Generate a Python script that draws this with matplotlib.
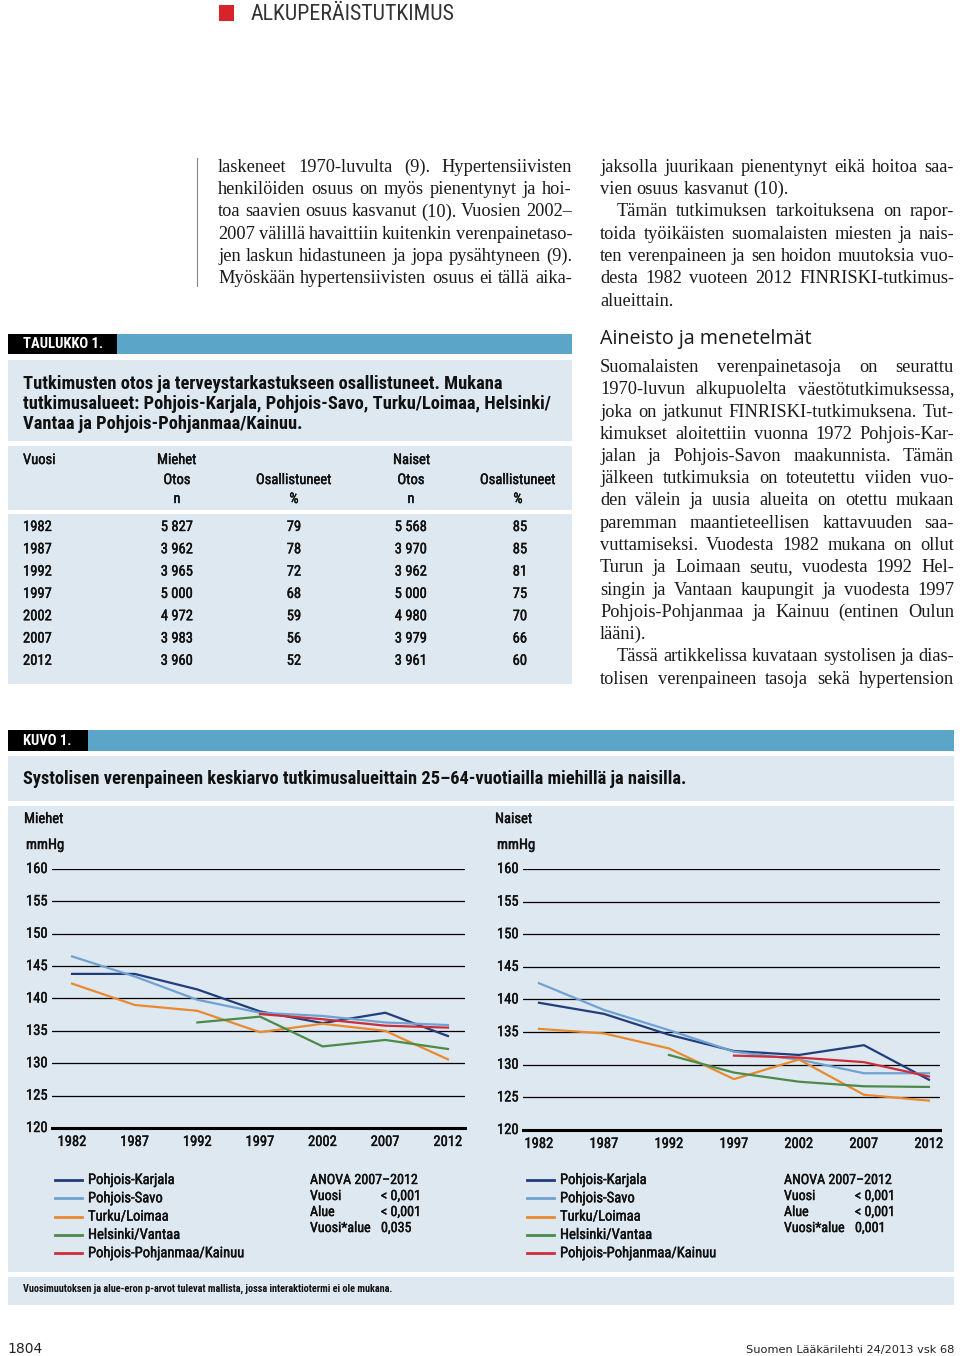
import matplotlib
matplotlib.use("Agg")
import numpy as np
import matplotlib.pyplot as plt
import matplotlib.transforms as mtransforms
import matplotlib.patheffects as pe
from matplotlib import font_manager
from matplotlib.patches import Rectangle
from matplotlib.lines import Line2D

W, H = 960, 1356

# --- data ---
vuodet = [1982, 1987, 1992, 1997, 2002, 2007, 2012]
alueet = ["Pohjois-Karjala", "Pohjois-Savo", "Turku/Loimaa", "Helsinki/Vantaa",
          "Pohjois-Pohjanmaa/Kainuu"]
varit = ["#213d7c", "#6fa2d2", "#ea8a2f", "#4c8a48", "#cc2e3a"]
nan = np.nan

miehet_pk = [143.8, 143.8, 141.4, 138.0, 136.2, 137.8, 134.2]
miehet_ps = [146.5, 143.4, 139.8, 137.8, 137.3, 136.3, 135.9]
miehet_tl = [142.3, 139.0, 138.1, 134.8, 136.1, 135.0, 130.6]
miehet_hv = [nan, nan, 136.3, 137.2, 132.6, 133.6, 132.2]
miehet_ppk = [nan, nan, nan, 137.6, 136.8, 135.8, 135.5]

naiset_pk = [139.5, 137.8, 134.6, 132.1, 131.5, 133.0, 127.7]
naiset_ps = [142.5, 138.4, 135.3, 132.0, 130.8, 128.7, 128.7]
naiset_tl = [135.5, 134.8, 132.5, 127.8, 130.8, 125.4, 124.5]
naiset_hv = [nan, nan, 131.5, 128.8, 127.4, 126.7, 126.6]
naiset_ppk = [nan, nan, nan, 131.4, 131.1, 130.4, 128.2]

y_tikit = [160, 155, 150, 145, 140, 135, 130, 125, 120]

anova_nimet = ["Vuosi", "Alue", "Vuosi*alue"]
anova_miehet = ["< 0,001", "< 0,001", "0,035"]
anova_naiset = ["< 0,001", "< 0,001", "0,001"]

miehet_otos = [5827, 3962, 3965, 5000, 4972, 3983, 3960]
miehet_osall = [79, 78, 72, 68, 59, 56, 52]
naiset_otos = [5568, 3970, 3962, 5000, 4980, 3979, 3961]
naiset_osall = [85, 85, 81, 75, 70, 66, 60]

# leipäteksti: ">" = sisennys, "¶" = kappaleen loppu
palsta1 = [
    "laskeneet 1970-luvulta (9). Hypertensiivisten",
    "henkilöiden osuus on myös pienentynyt ja hoi-",
    "toa saavien osuus kasvanut (10). Vuosien 2002–",
    "2007 välillä havaittiin kuitenkin verenpainetaso-",
    "jen laskun hidastuneen ja jopa pysähtyneen (9).",
    "Myöskään hypertensiivisten osuus ei tällä aika-",
]
palsta2 = [
    "jaksolla juurikaan pienentynyt eikä hoitoa saa-",
    "vien osuus kasvanut (10).¶",
    ">Tämän tutkimuksen tarkoituksena on rapor-",
    "toida työikäisten suomalaisten miesten ja nais-",
    "ten verenpaineen ja sen hoidon muutoksia vuo-",
    "desta 1982 vuoteen 2012 FINRISKI-tutkimus-",
    "alueittain.¶",
]
palsta3 = [
    "Suomalaisten verenpainetasoja on seurattu",
    "1970-luvun alkupuolelta väestötutkimuksessa,",
    "joka on jatkunut FINRISKI-tutkimuksena. Tut-",
    "kimukset aloitettiin vuonna 1972 Pohjois-Kar-",
    "jalan ja Pohjois-Savon maakunnista. Tämän",
    "jälkeen tutkimuksia on toteutettu viiden vuo-",
    "den välein ja uusia alueita on otettu mukaan",
    "paremman maantieteellisen kattavuuden saa-",
    "vuttamiseksi. Vuodesta 1982 mukana on ollut",
    "Turun ja Loimaan seutu, vuodesta 1992 Hel-",
    "singin ja Vantaan kaupungit ja vuodesta 1997",
    "Pohjois-Pohjanmaa ja Kainuu (entinen Oulun",
    "lääni).¶",
    ">Tässä artikkelissa kuvataan systolisen ja dias-",
    "tolisen verenpaineen tasoja sekä hypertension",
]

# --- fontit ---
nimet = {f.name for f in font_manager.fontManager.ttflist}
KAPEA = next((n for n in ["Liberation Sans Narrow", "Roboto Condensed", "Open Sans Condensed"]
              if n in nimet), "DejaVu Sans")
SERIF = "Liberation Serif"
SININEN = "#5aa5c8"
VAALEA = "#dde8f1"
MUSTA = "#111111"
# puolilihava vaikutelma ohuella ääriviivalla
PUOLI = [pe.withStroke(linewidth=0.3, foreground=MUSTA)]

fig = plt.figure(figsize=(W / 100, H / 100), dpi=100)
renderer = fig.canvas.get_renderer()


def laatikko(x0, y0, x1, y1, color):
    fig.patches.append(Rectangle((x0 / W, 1 - y1 / H), (x1 - x0) / W, (y1 - y0) / H,
                                 transform=fig.transFigure, color=color, zorder=-5, lw=0))


def teksti(x, y, s, **kw):
    kw.setdefault("va", "center")
    kw.setdefault("family", KAPEA)
    return fig.text(x / W, 1 - y / H, s, **kw)


def leveys(s, fp):
    return renderer.get_text_width_height_descent(s, fp, ismath=False)[0]


def palsta(x0, x1, y0, rivit, fp, rivivali=22.25):
    for i, rivi in enumerate(rivit):
        y = y0 + i * rivivali + 5
        loppu = rivi.endswith("¶")
        xa = x0 + (17 if rivi.startswith(">") else 0)
        sanat = rivi.strip("¶>").split(" ")
        lev = [leveys(s, fp) for s in sanat]
        if loppu:
            vali = leveys("n n", fp) - leveys("nn", fp)
        else:
            vali = (x1 - xa - sum(lev)) / (len(sanat) - 1)
        x = xa
        for s, w in zip(sanat, lev):
            fig.text(x / W, 1 - y / H, s, fontproperties=fp, va="baseline", color="#1a1a1a")
            x += w + vali


# --- yläosa ---
laatikko(219, 5, 234, 21, "#d8232a")
teksti(251, 14, "ALKUPERÄISTUTKIMUS", fontsize=15.8, color="#333333")
fig.add_artist(Line2D([197 / W, 197 / W], [1 - 158 / H, 1 - 286 / H],
                      transform=fig.transFigure, color="#888888", lw=0.8))

fp_serif = font_manager.FontProperties(family=SERIF, size=13.2)
palsta(218, 572, 167, palsta1, fp_serif)
palsta(600, 954, 167, palsta2, fp_serif)
palsta(600, 954, 367, palsta3, fp_serif)
teksti(600, 339, "Aineisto ja menetelmät", family="Open Sans", fontsize=14.2, color="#1a1a1a")

# --- taulukko ---
laatikko(8, 334, 117, 354, "black")
laatikko(117, 334, 572, 354, SININEN)
teksti(23, 344, "TAULUKKO 1.", color="white", fontsize=10.5, weight="bold")
laatikko(8, 360, 572, 441, VAALEA)
otsikko = ["Tutkimusten otos ja terveystarkastukseen osallistuneet. Mukana",
           "tutkimusalueet: Pohjois-Karjala, Pohjois-Savo, Turku/Loimaa, Helsinki/",
           "Vantaa ja Pohjois-Pohjanmaa/Kainuu."]
for i, r in enumerate(otsikko):
    teksti(23, 384 + i * 20, r, fontsize=13.3, weight="bold", color=MUSTA)

laatikko(8, 446, 572, 510, VAALEA)
laatikko(8, 514, 572, 684, VAALEA)
kt = dict(fontsize=10.5, color=MUSTA, path_effects=PUOLI)
teksti(23, 460, "Vuosi", **kt)
teksti(157, 460, "Miehet", **kt)
teksti(393, 460, "Naiset", **kt)
for xc, a, b in [(177, "Otos", "n"), (294, "Osallistuneet", "%"),
                 (411, "Otos", "n"), (518, "Osallistuneet", "%")]:
    teksti(xc, 480, a, ha="center", **kt)
    teksti(xc, 499, b, ha="center", **kt)


def luku(n):
    return f"{n:,}".replace(",", " ")


for i, v in enumerate(vuodet):
    y = 527 + i * 22.3
    teksti(23, y, str(v), **kt)
    teksti(177, y, luku(miehet_otos[i]), ha="center", **kt)
    teksti(294, y, str(miehet_osall[i]), ha="center", **kt)
    teksti(411, y, luku(naiset_otos[i]), ha="center", **kt)
    teksti(520, y, str(naiset_osall[i]), ha="center", **kt)

# --- kuvio ---
laatikko(8, 730, 88, 751, "black")
laatikko(88, 730, 954, 751, SININEN)
teksti(23, 741, "KUVO 1.", color="white", fontsize=10.5, weight="bold")
laatikko(8, 756, 954, 801, VAALEA)
teksti(23, 779, "Systolisen verenpaineen keskiarvo tutkimusalueittain 25–64-vuotiailla miehillä ja naisilla.",
       fontsize=13.2, weight="bold", color=MUSTA)
laatikko(8, 806, 954, 1272, VAALEA)
laatikko(8, 1277, 954, 1305, VAALEA)
teksti(23, 1289, "Vuosimuutoksen ja alue-eron p-arvot tulevat mallista, jossa interaktiotermi ei ole mukana.",
       fontsize=7.35, weight="bold", color=MUSTA)


def kuvaaja(x0, x1, ytop, ybot, sarjat, xlim, xlab, otsikko):
    ax = fig.add_axes([x0 / W, 1 - ybot / H, (x1 - x0) / W, (ybot - ytop) / H])
    ax.set_facecolor("none")
    for arvot, vari in zip(sarjat, varit):
        ax.plot(vuodet, arvot, color=vari, lw=1.6, zorder=3)
    ax.set_xlim(xlim)
    ax.set_ylim(120, 160)
    ax.set_yticks(y_tikit)
    ax.set_yticklabels([])
    ax.set_axisbelow(True)
    ax.yaxis.grid(True, color="black", lw=0.9)
    ax.axhline(120, color="black", lw=2.2, zorder=2, clip_on=False)
    ax.set_xticks(vuodet)
    ax.set_xticklabels([str(v) for v in vuodet], family=KAPEA, fontsize=10.5, color=MUSTA,
                       path_effects=PUOLI)
    ax.tick_params(left=False, bottom=False, pad=1.5)
    for s in ax.spines.values():
        s.set_visible(False)
    tr = mtransforms.blended_transform_factory(fig.transFigure, ax.transData)
    for v in y_tikit:
        ax.text(xlab / W, v, str(v), transform=tr, ha="left", va="center",
                family=KAPEA, fontsize=10.5, color=MUSTA, path_effects=PUOLI)
    teksti(xlab - 2, 819, otsikko, fontsize=10.5, color=MUSTA, path_effects=PUOLI)
    teksti(xlab, 845, "mmHg", fontsize=10.5, color=MUSTA, path_effects=PUOLI)
    return ax


kuvaaja(52, 465, 869, 1128,
        [miehet_pk, miehet_ps, miehet_tl, miehet_hv, miehet_ppk],
        (1980.40, 2013.36), 26, "Miehet")
kuvaaja(523, 940, 869, 1130,
        [naiset_pk, naiset_ps, naiset_tl, naiset_hv, naiset_ppk],
        (1980.77, 2012.85), 497, "Naiset")

# selitteet
for xl, xa, anova in [(55, 310, anova_miehet), (527, 784, anova_naiset)]:
    for i, (nimi, vari) in enumerate(zip(alueet, varit)):
        y = 1180 + i * 18.3
        fig.add_artist(Line2D([xl / W, (xl + 27) / W], [1 - y / H, 1 - y / H],
                              transform=fig.transFigure, color=vari, lw=2))
        teksti(xl + 33, y, nimi, fontsize=10.5, color=MUSTA, path_effects=PUOLI)
    teksti(xa, 1180, "ANOVA 2007–2012", fontsize=10.1, color=MUSTA, path_effects=PUOLI)
    for i, (n, p) in enumerate(zip(anova_nimet, anova)):
        teksti(xa, 1196 + i * 16, n, fontsize=10.1, color=MUSTA, path_effects=PUOLI)
        teksti(xa + 71, 1196 + i * 16, p, fontsize=10.1, color=MUSTA, path_effects=PUOLI)

# alatunniste
teksti(7, 1349, "1804", family="DejaVu Sans", fontsize=10, color="#222222")
teksti(954, 1350, "Suomen Lääkärilehti 24/2013 vsk 68", family="DejaVu Sans",
       fontsize=8.2, ha="right", color="#222222")

fig.savefig("out.png", dpi=100)
